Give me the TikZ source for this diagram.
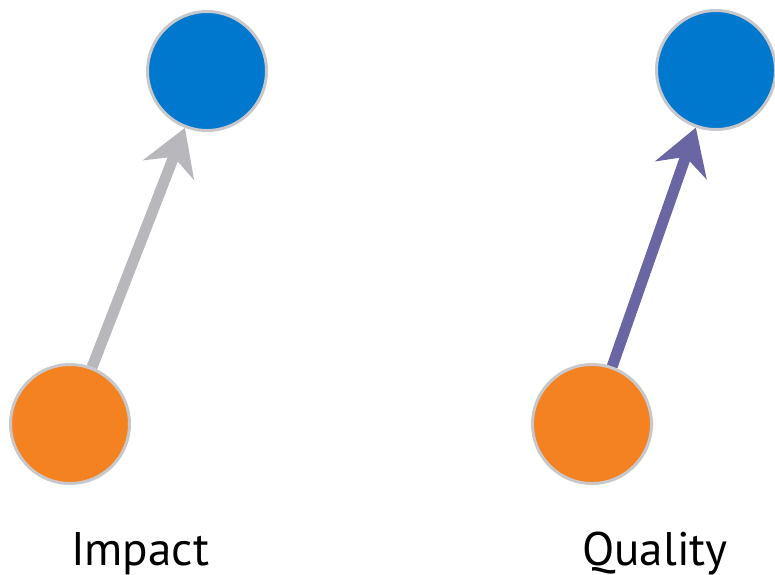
\documentclass[tikz,border=0pt]{standalone}
\usepackage{fontspec}
\setmainfont{PT Sans}
\usetikzlibrary{arrows.meta}

\definecolor{goalblue}{RGB}{0,120,205}
\definecolor{srcorange}{RGB}{245,130,32}
\definecolor{ringgrey}{RGB}{200,200,204}
\definecolor{impgrey}{RGB}{184,184,188}
\definecolor{qualpurple}{RGB}{106,102,163}

\begin{document}
\begin{tikzpicture}[x=1cm,y=1cm,
    goal/.style={circle,draw=ringgrey,line width=0.03cm,fill=goalblue,minimum size=1.19cm,inner sep=0pt},
    src/.style={circle,draw=ringgrey,line width=0.03cm,fill=srcorange,minimum size=1.19cm,inner sep=0pt},
    link/.style={-{Stealth[length=0.45cm,width=0.54cm,inset=0.14cm]},line width=0.11cm},
    caption/.style={anchor=base,font=\fontsize{13.4}{16}\selectfont}]
    \useasboundingbox (0,0) rectangle (7.75,5.74);

    % left pair
    \node [goal] (impgoal) at (2.07,5.03) {};
    \node [src] (impsrc) at (0.70,1.50) {};
    \draw [link,color=impgrey] (impsrc) -- (impgoal);
    \node [caption] (implabel) at (1.40,0.09) {Impact};

    % right pair
    \node [goal] (qualgoal) at (7.16,5.04) {};
    \node [src] (qualsrc) at (5.92,1.50) {};
    \draw [link,color=qualpurple] (qualsrc) -- (qualgoal);
    \node [caption] (quallabel) at (6.55,0.09) {Quality};

  \end{tikzpicture}
\end{document}
